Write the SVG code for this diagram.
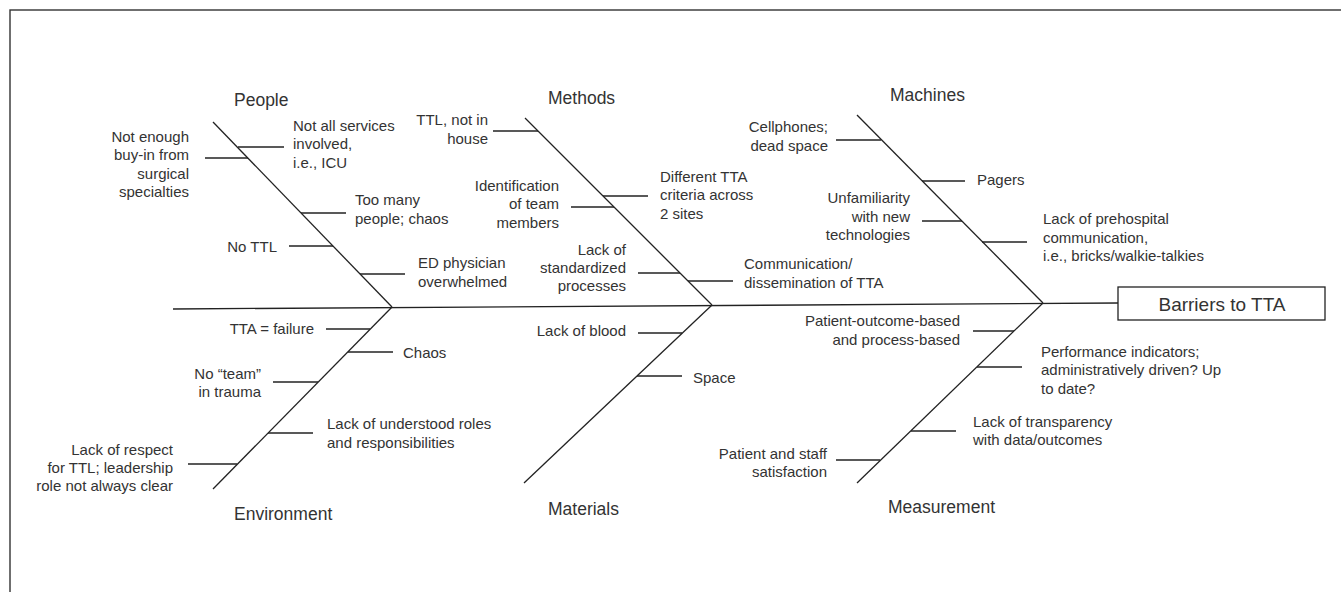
<svg xmlns="http://www.w3.org/2000/svg" width="1341" height="592" viewBox="0 0 1341 592">
<style>
  .bg{fill:#ffffff}
  .frame{fill:none;stroke:#333;stroke-width:1.4}
  .ln{stroke:#222;stroke-width:1.3;fill:none}
  .t{font-family:"Liberation Sans",Arial,sans-serif;font-size:15px;fill:#333}
  .e{text-anchor:end}
  .h{font-family:"Liberation Sans",Arial,sans-serif;font-size:17.5px;fill:#333}
  .box{fill:#fff;stroke:#222;stroke-width:1.3}
  .bt{font-family:"Liberation Sans",Arial,sans-serif;font-size:19px;fill:#333;text-anchor:middle}
</style>
<rect class="bg" x="0" y="0" width="1341" height="592"/>
<rect class="frame" x="10" y="10" width="1400" height="700"/>

<g id="connectors">
  <line class="ln" x1="173" y1="309" x2="1118" y2="303"/>
  <line class="ln" x1="213" y1="122" x2="392" y2="307"/>
  <line class="ln" x1="525" y1="118" x2="712" y2="305"/>
  <line class="ln" x1="857" y1="115" x2="1043" y2="303"/>
  <line class="ln" x1="392" y1="307" x2="213" y2="489"/>
  <line class="ln" x1="712" y1="305" x2="524" y2="483"/>
  <line class="ln" x1="1043" y1="303" x2="857" y2="483"/>
  <!-- People ribs -->
  <line class="ln" x1="238" y1="147" x2="284" y2="147"/>
  <line class="ln" x1="205" y1="158" x2="248" y2="158"/>
  <line class="ln" x1="301" y1="213" x2="346" y2="213"/>
  <line class="ln" x1="289" y1="246" x2="333" y2="246"/>
  <line class="ln" x1="360" y1="274" x2="405" y2="274"/>
  <!-- Methods ribs -->
  <line class="ln" x1="493" y1="131" x2="538" y2="131"/>
  <line class="ln" x1="603" y1="196" x2="648" y2="196"/>
  <line class="ln" x1="571" y1="207" x2="614" y2="207"/>
  <line class="ln" x1="638" y1="273" x2="680" y2="273"/>
  <line class="ln" x1="688" y1="281" x2="733" y2="281"/>
  <!-- Machines ribs -->
  <line class="ln" x1="836" y1="140" x2="881" y2="140"/>
  <line class="ln" x1="922" y1="181" x2="965" y2="181"/>
  <line class="ln" x1="922" y1="221" x2="962" y2="221"/>
  <line class="ln" x1="982" y1="242" x2="1027" y2="242"/>
  <!-- Environment ribs -->
  <line class="ln" x1="326" y1="329" x2="370" y2="329"/>
  <line class="ln" x1="348" y1="352" x2="393" y2="352"/>
  <line class="ln" x1="273" y1="382" x2="318" y2="382"/>
  <line class="ln" x1="268" y1="433" x2="313" y2="433"/>
  <line class="ln" x1="188" y1="464" x2="237" y2="464"/>
  <!-- Materials ribs -->
  <line class="ln" x1="638" y1="333" x2="682" y2="333"/>
  <line class="ln" x1="637" y1="376" x2="682" y2="376"/>
  <!-- Measurement ribs -->
  <line class="ln" x1="973" y1="331" x2="1014" y2="331"/>
  <line class="ln" x1="977" y1="367" x2="1022" y2="367"/>
  <line class="ln" x1="911" y1="431" x2="956" y2="431"/>
  <line class="ln" x1="836" y1="460" x2="880" y2="460"/>
</g>

<g id="effect">
  <rect class="box" x="1118" y="287" width="207" height="33"/>
  <text class="bt" x="1222" y="311">Barriers to TTA</text>
</g>

<g id="people">
  <text class="h" x="234" y="106">People</text>
  <text class="t" x="293" y="131">Not all services</text>
  <text class="t" x="293" y="149">involved,</text>
  <text class="t" x="293" y="167.5">i.e., ICU</text>
  <text class="t e" x="189" y="141.5">Not enough</text>
  <text class="t e" x="189" y="160">buy-in from</text>
  <text class="t e" x="189" y="178.5">surgical</text>
  <text class="t e" x="189" y="197">specialties</text>
  <text class="t" x="355" y="205">Too many</text>
  <text class="t" x="355" y="223.5">people; chaos</text>
  <text class="t e" x="277" y="252">No TTL</text>
  <text class="t" x="418" y="268">ED physician</text>
  <text class="t" x="418" y="287">overwhelmed</text>
</g>

<g id="methods">
  <text class="h" x="548" y="104">Methods</text>
  <text class="t e" x="488" y="125">TTL, not in</text>
  <text class="t e" x="488" y="144">house</text>
  <text class="t" x="660" y="182">Different TTA</text>
  <text class="t" x="660" y="200">criteria across</text>
  <text class="t" x="660" y="218.5">2 sites</text>
  <text class="t e" x="559" y="191">Identification</text>
  <text class="t e" x="559" y="209">of team</text>
  <text class="t e" x="559" y="227.5">members</text>
  <text class="t e" x="626" y="255">Lack of</text>
  <text class="t e" x="626" y="273">standardized</text>
  <text class="t e" x="626" y="291">processes</text>
  <text class="t" x="744" y="268.5">Communication/</text>
  <text class="t" x="744" y="287.5">dissemination of TTA</text>
</g>

<g id="machines">
  <text class="h" x="890" y="101">Machines</text>
  <text class="t e" x="828" y="132">Cellphones;</text>
  <text class="t e" x="828" y="151">dead space</text>
  <text class="t" x="977" y="185">Pagers</text>
  <text class="t e" x="910" y="203">Unfamiliarity</text>
  <text class="t e" x="910" y="221.5">with new</text>
  <text class="t e" x="910" y="240">technologies</text>
  <text class="t" x="1043" y="224">Lack of prehospital</text>
  <text class="t" x="1043" y="242.5">communication,</text>
  <text class="t" x="1043" y="261">i.e., bricks/walkie-talkies</text>
</g>

<g id="environment">
  <text class="h" x="234" y="520">Environment</text>
  <text class="t e" x="314" y="334">TTA = failure</text>
  <text class="t" x="403" y="358">Chaos</text>
  <text class="t e" x="261" y="378.5">No “team”</text>
  <text class="t e" x="261" y="397">in trauma</text>
  <text class="t" x="327" y="429">Lack of understood roles</text>
  <text class="t" x="327" y="447.5">and responsibilities</text>
  <text class="t e" x="173" y="454.5">Lack of respect</text>
  <text class="t e" x="173" y="473">for TTL; leadership</text>
  <text class="t e" x="173" y="491">role not always clear</text>
</g>

<g id="materials">
  <text class="h" x="548" y="515">Materials</text>
  <text class="t e" x="626" y="336">Lack of blood</text>
  <text class="t" x="693" y="383">Space</text>
</g>

<g id="measurement">
  <text class="h" x="888" y="513">Measurement</text>
  <text class="t e" x="960" y="326">Patient-outcome-based</text>
  <text class="t e" x="960" y="344.5">and process-based</text>
  <text class="t" x="1041" y="357">Performance indicators;</text>
  <text class="t" x="1041" y="375">administratively driven? Up</text>
  <text class="t" x="1041" y="393.5">to date?</text>
  <text class="t" x="973" y="427">Lack of transparency</text>
  <text class="t" x="973" y="445">with data/outcomes</text>
  <text class="t e" x="827" y="458.5">Patient and staff</text>
  <text class="t e" x="827" y="477">satisfaction</text>
</g>
</svg>
